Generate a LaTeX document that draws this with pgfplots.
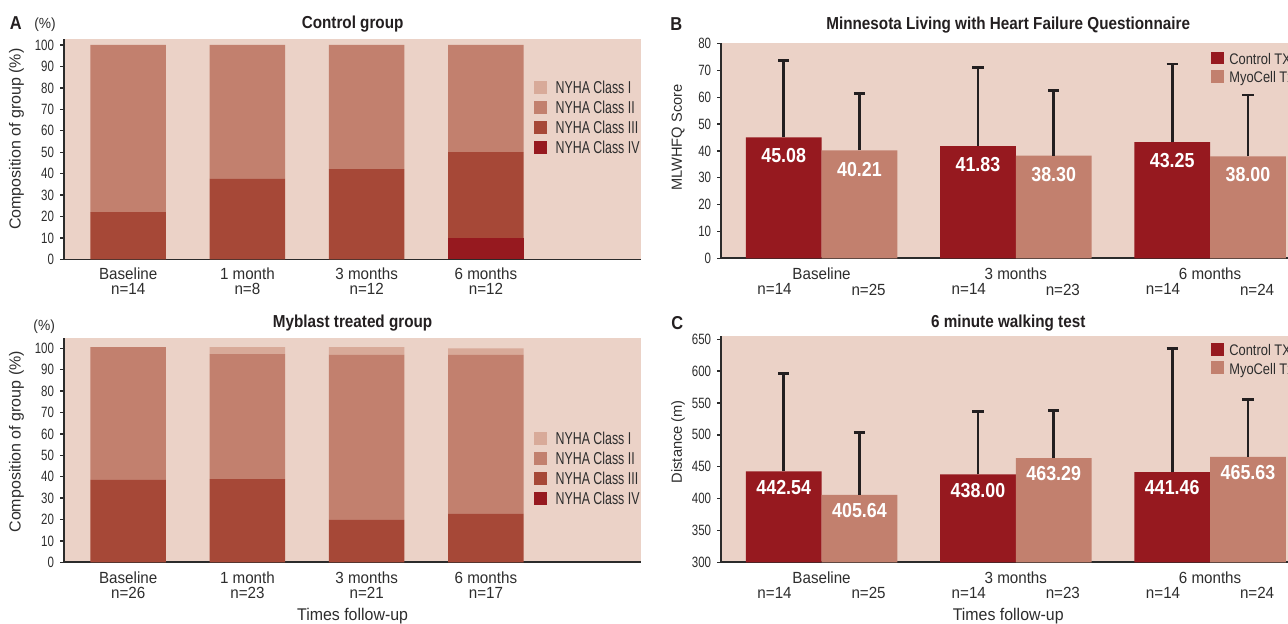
\documentclass[border=0pt]{standalone}
\usepackage{fontspec}
\setmainfont{Liberation Sans}
\newfontfamily\labs{Liberation Sans}[FakeStretch=0.94]
\newfontfamily\nums{Liberation Sans}[FakeStretch=0.77]
\newfontfamily\lega{Liberation Sans}[FakeStretch=0.72]
\newfontfamily\legb{Liberation Sans}[FakeStretch=0.84]
\newfontfamily\bolds{Liberation Sans}[FakeStretch=0.88]
\usepackage{pgfplots}
\pgfplotsset{compat=1.18}
\definecolor{bgc}{RGB}{235,210,199}
\definecolor{cI}{RGB}{216,170,153}
\definecolor{cII}{RGB}{194,128,110}
\definecolor{cIII}{RGB}{166,72,55}
\definecolor{cIV}{RGB}{150,25,31}
\definecolor{axc}{RGB}{43,43,43}
\definecolor{txc}{RGB}{45,45,45}
\definecolor{errc}{RGB}{35,31,32}
\pgfplotsset{
  panel/.style={
    scale only axis, clip=true,
    axis background/.style={fill=bgc},
    axis x line*=bottom, axis y line*=left,
    axis line style={line width=1.3pt, draw=axc, -},
    tick align=outside, major tick length=3.2pt,
    ytick style={line width=1pt, draw=axc},
    xtick style={draw=none},
    /pgf/number format/assume math mode=true,
    yticklabel style={font=\nums\fontsize{11.2}{13}\selectfont, text=txc, anchor=east, inner sep=0pt, xshift=-4.3pt},
    xticklabel style={font=\labs\fontsize{12.1}{11.25}\selectfont, text=txc, anchor=north, inner sep=0pt, align=center},
    ylabel style={anchor=center, text=txc},
    title style={at={(axis description cs:0.5,1)}, anchor=base, font=\bolds\bfseries\fontsize{13}{15}\selectfont, text=errc},
    xlabel style={at={(axis description cs:0.5,0)}, anchor=base, font=\labs\fontsize{12.7}{14}\selectfont, text=txc},
    error bars/error bar style={line width=2pt, draw=errc},
    error bars/error mark options={rotate=90, line width=2pt, mark size=4.25pt, draw=errc},
  },
  legA/.style={
    reverse legend,
    legend cell align=left,
    legend image code/.code={\fill[##1] (0pt,-4.875pt) rectangle (9.75pt,4.875pt);},
    legend style={draw=none, fill=none, inner sep=0pt, outer sep=0pt, anchor=north west,
      row sep=5.25pt, column sep=6.2pt,
      nodes={inner sep=0pt, text height=9.75pt, text depth=0pt, font=\lega\fontsize{12.9}{14}\selectfont, text=txc}},
  },
  legB/.style={
    legend cell align=left,
    legend image code/.code={\fill[##1] (0pt,-4.75pt) rectangle (9.5pt,4.75pt);},
    legend style={draw=none, fill=none, inner sep=0pt, outer sep=0pt, anchor=north west,
      row sep=4.3pt, column sep=4pt,
      nodes={inner sep=0pt, text height=9.5pt, text depth=0pt, font=\legb\fontsize{11.5}{13}\selectfont, text=txc}},
  },
  valnodes/.style={
    nodes near coords, point meta=explicit symbolic,
    nodes near coords style={anchor=center, yshift=#1, inner sep=0pt, text=white, font=\bolds\bfseries\fontsize{15.2}{16}\selectfont},
  },
}
\begin{document}
\begin{tikzpicture}
% ---------------- Panel A: control group
\begin{axis}[panel, at={(48.2pt,273.45pt)}, anchor=south west,
  width=432.5pt, height=165.3pt,
  xmin=-0.536, xmax=4.30, ymin=0, ymax=102.8,
  ytick={0,10,...,100},
  xtick={0,1,2,3},
  xticklabels={{Baseline\\n=14},{1 month\\n=8},{3 months\\n=12},{6 months\\n=12}},
  xticklabel style={yshift=-3.25pt},
  ybar stacked, bar width=56.6pt, legA,
  title={Control group}, title style={yshift=1.5pt},
  ylabel={Composition of group (\%)},
  ylabel style={at={(axis description cs:-0.0827,0.545)}, font=\fontsize{12}{14}\selectfont},
  legend style={at={(axis description cs:0.8152,0.810)}},
]
\addplot[fill=cIV, draw=none] coordinates {(0,0) (1,0) (2,0) (3,10)};
\addplot[fill=cIII, draw=none] coordinates {(0,22.1) (1,37.5) (2,42.1) (3,40)};
\addplot[fill=cII, draw=none] coordinates {(0,77.9) (1,62.5) (2,57.9) (3,50)};
\addplot[fill=cI, draw=none] coordinates {(0,0) (1,0) (2,0) (3,0)};
\legend{NYHA Class IV, NYHA Class III, NYHA Class II, NYHA Class I}
\end{axis}
% ---------------- Panel A: myoblast treated group
\begin{axis}[panel, at={(48.2pt,46.3pt)}, anchor=south west,
  width=432.5pt, height=168pt,
  xmin=-0.536, xmax=4.30, ymin=0, ymax=104.7,
  ytick={0,10,...,100},
  xtick={0,1,2,3},
  xticklabels={{Baseline\\n=26},{1 month\\n=23},{3 months\\n=21},{6 months\\n=17}},
  xticklabel style={yshift=-4pt},
  ybar stacked, bar width=56.6pt, legA,
  title={Myblast treated group}, title style={yshift=2pt},
  ylabel={Composition of group (\%)},
  ylabel style={at={(axis description cs:-0.0827,0.538)}, font=\fontsize{12}{14}\selectfont},
  xlabel={Times follow-up}, xlabel style={yshift=-44pt},
  legend style={at={(axis description cs:0.8152,0.5826)}},
]
\addplot[fill=cIV, draw=none] coordinates {(0,0) (1,0) (2,0) (3,0)};
\addplot[fill=cIII, draw=none] coordinates {(0,38.5) (1,38.9) (2,19.8) (3,22.6)};
\addplot[fill=cII, draw=none] coordinates {(0,62.1) (1,58.4) (2,77.1) (3,74.3)};
\addplot[fill=cI, draw=none] coordinates {(0,0) (1,3.3) (2,3.7) (3,3.1)};
\legend{NYHA Class IV, NYHA Class III, NYHA Class II, NYHA Class I}
\end{axis}
% ---------------- Panel B: MLWHFQ
\begin{axis}[panel, valnodes=-14pt, at={(541.0pt,274.3pt)}, anchor=south west,
  width=430.3pt, height=161.7pt,
  xmin=-0.516, xmax=2.4376, ymin=0, ymax=80.37,
  ytick={0,10,...,80},
  xtick={0,1,2}, xticklabels={Baseline,3 months,6 months},
  xticklabel style={yshift=-3.8pt},
  extra x ticks={-0.242,0.242,0.758,1.242,1.758,2.242},
  extra x tick labels={n=14,n=25,n=14,n=23,n=14,n=24},
  extra x tick style={xticklabel style={yshift=-12pt}, xtick style={draw=none}},
  ybar=0pt, bar width=56.8pt, legB,
  title={Minnesota Living with Heart Failure Questionnaire}, title style={yshift=4pt},
  ylabel={MLWHFQ Score},
  ylabel style={at={(axis description cs:-0.0755,0.560)}, font=\fontsize{11}{13}\selectfont},
  legend style={at={(axis description cs:0.8541,0.9583)}},
]
\addplot[fill=cIV, draw=none, error bars/.cd, y dir=plus, y explicit]
  table[x=x, y=y, y error plus=e, meta=lab] {
x y e lab
0 45.08 28.7 45.08
1 41.83 29.4 41.83
2 43.25 29.2 43.25
};
\addplot[fill=cII, draw=none, error bars/.cd, y dir=plus, y explicit]
  table[x=x, y=y, y error plus=e, meta=lab] {
x y e lab
0 40.21 21.2 40.21
1 38.30 24.3 38.30
2 38.00 22.8 38.00
};
\legend{Control TX, MyoCell Tx}
\end{axis}
% ---------------- Panel C: 6 minute walking test
\begin{axis}[panel, valnodes=-11.8pt, at={(541.0pt,46.3pt)}, anchor=south west,
  width=430.3pt, height=169.7pt,
  xmin=-0.516, xmax=2.4376, ymin=300, ymax=655.2,
  ytick={300,350,...,650},
  xtick={0,1,2}, xticklabels={Baseline,3 months,6 months},
  xticklabel style={yshift=-3.5pt},
  extra x ticks={-0.242,0.242,0.758,1.242,1.758,2.242},
  extra x tick labels={n=14,n=25,n=14,n=23,n=14,n=24},
  extra x tick style={xticklabel style={yshift=-12pt}, xtick style={draw=none}},
  ybar=0pt, bar width=56.8pt, legB,
  title={6 minute walking test}, title style={yshift=0.3pt},
  ylabel={Distance (m)},
  ylabel style={at={(axis description cs:-0.0755,0.533)}, font=\fontsize{11}{13}\selectfont},
  xlabel={Times follow-up}, xlabel style={yshift=-44pt},
  legend style={at={(axis description cs:0.8541,0.969)}},
]
\addplot[fill=cIV, draw=none, error bars/.cd, y dir=plus, y explicit]
  table[x=x, y=y, y error plus=e, meta=lab] {
x y e lab
0 442.54 153.5 442.54
1 438.00 99.0 438.00
2 441.46 194.5 441.46
};
\addplot[fill=cII, draw=none, error bars/.cd, y dir=plus, y explicit]
  table[x=x, y=y, y error plus=e, meta=lab] {
x y e lab
0 405.64 97.8 405.64
1 463.29 75.3 463.29
2 465.63 90.2 465.63
};
\legend{Control TX, MyoCell Tx}
\end{axis}
% ---------------- panel letters and unit marks
\node[anchor=base, inner sep=0pt, font=\bolds\bfseries\fontsize{14}{16}\selectfont, text=errc] at (11.85pt,445.5pt) {A};
\node[anchor=base, inner sep=0pt, font=\bolds\bfseries\fontsize{14}{16}\selectfont, text=errc] at (507.3pt,445.0pt) {B};
\node[anchor=base, inner sep=0pt, font=\bolds\bfseries\fontsize{14}{16}\selectfont, text=errc] at (507.9pt,220.5pt) {C};
\node[anchor=base, inner sep=0pt, font=\labs\fontsize{11}{13}\selectfont, text=txc] at (33.75pt,446.55pt) {(\%)};
\node[anchor=base, inner sep=0pt, font=\labs\fontsize{11}{13}\selectfont, text=txc] at (33.15pt,220.35pt) {(\%)};
\pgfresetboundingbox
\useasboundingbox (0pt,0pt) rectangle (966pt,468pt);
\end{tikzpicture}
\end{document}
